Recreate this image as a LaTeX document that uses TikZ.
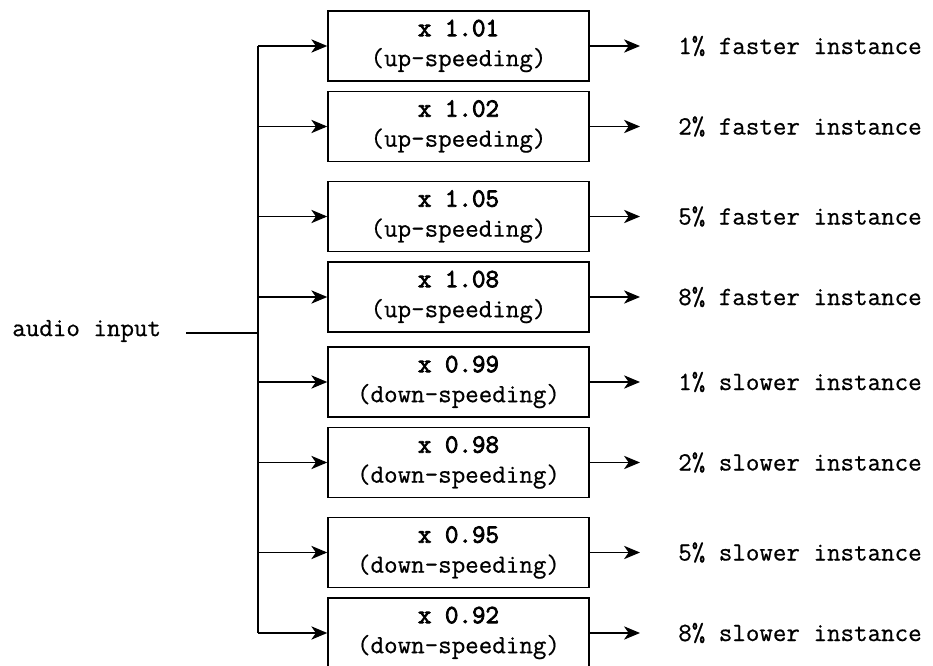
\documentclass[tikz,border=0pt]{standalone}
\usepackage{fontspec}
\newfontfamily\diagfont{Latin Modern Mono}[FakeBold=0.6]
\newfontfamily\diagbold{Latin Modern Mono}[FakeBold=3]
\usetikzlibrary{arrows.meta}
\begin{document}
\begin{tikzpicture}[x=0.75pt,y=-0.75pt,
  every node/.style={font=\diagfont\fontsize{19.7}{22.5}\selectfont},
  stage/.style={draw, line width=1.1pt, minimum width=195.75pt, minimum height=52.5pt,
                inner sep=0pt, align=center},
  outlabel/.style={anchor=west, inner sep=0pt},
  feed/.style={line width=0.9pt, -{Stealth[length=12pt,width=10pt,inset=3.5pt]}},
  trunk/.style={line width=1.3pt},
  inputline/.style={line width=2pt},
]
\clip (0,0) rectangle (933,666);

% one speed-change stage per row
\foreach \i/\y/\f/\kind/\pct/\dir in {
    1/46/1.01/up/1/faster, 2/126.5/1.02/up/2/faster,
    3/216.5/1.05/up/5/faster, 4/297/1.08/up/8/faster,
    5/382/0.99/down/1/slower, 6/462.5/0.98/down/2/slower,
    7/552.5/0.95/down/5/slower, 8/633/0.92/down/8/slower}{
  \node[stage] (b\i) at (458.5,\y)
    {{\diagbold\fontsize{19.7}{22.5}\selectfont x \f}\\(\kind-speeding)};
  \coordinate (t\i) at (258,\y);
  \node[outlabel] (o\i) at (678,\y) {\pct\% \dir\ instance};
  \draw[feed] (t\i) -- (b\i);
  \draw[feed, shorten >=28.5pt] (b\i) -- (o\i);
}

% distribution bus
\draw[trunk] (t1) -- (t8);

% input signal
\node[outlabel] (inp) at (12,331) {audio input};
\coordinate (j) at (258,333);
\draw[inputline, shorten <=18.75pt] (inp.east |- j) -- (j);
\end{tikzpicture}
\end{document}
